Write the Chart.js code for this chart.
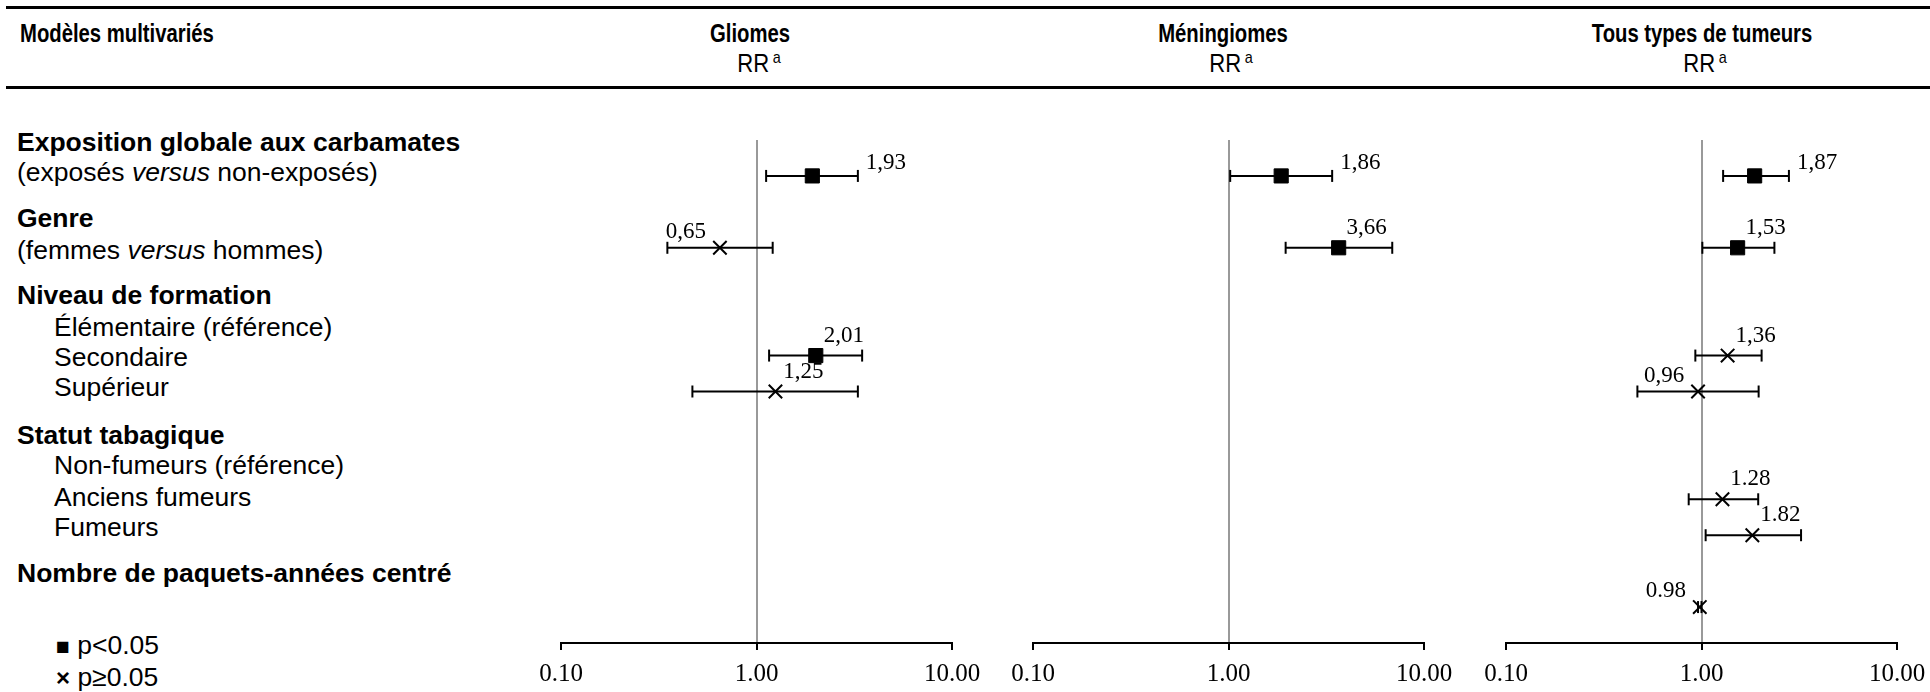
<!DOCTYPE html>
<html lang="fr">
<head>
<meta charset="utf-8">
<title>Modèles multivariés – RR</title>
<script src="https://cdn.jsdelivr.net/npm/chart.js@4.4.1/dist/chart.umd.min.js"></script>
<style>
  html, body { margin: 0; padding: 0; background: #fff; }
  body { width: 1930px; height: 692px; position: relative; overflow: hidden;
         font-family: "Liberation Sans", Arial, sans-serif; color: #000; }
  .rule { position: absolute; left: 6px; right: 0; height: 3px; background: #000; }
  .t { position: absolute; white-space: nowrap; line-height: 30px; height: 30px; font-size: 26.5px; }
  .b { font-weight: bold; }
  /* en-têtes : police étroite (type Arial Narrow) */
  .h { position: absolute; white-space: nowrap; font-size: 26px; line-height: 30px; text-align: center;
       width: 400px; transform: scaleX(0.78); transform-origin: 50% 50%; }
  .rr { font-size: 26px; transform: scaleX(0.85); }
  .h sup { font-size: 17px; line-height: 0; vertical-align: 9px; margin-left: 4px; }
  canvas { position: absolute; top: 100px; }
</style>
</head>
<body>

<div class="rule" style="top:6px"></div>
<div class="rule" style="top:86px"></div>

<div class="h b" style="left:20px; top:18px; text-align:left; transform-origin: 0 50%">Modèles multivariés</div>
<div class="h b" style="left:550px; top:18px">Gliomes</div>
<div class="h rr" style="left:559px; top:48px">RR<sup>a</sup></div>
<div class="h b" style="left:1023px; top:18px">Méningiomes</div>
<div class="h rr" style="left:1031px; top:48px">RR<sup>a</sup></div>
<div class="h b" style="left:1502px; top:18px">Tous types de tumeurs</div>
<div class="h rr" style="left:1505px; top:48px">RR<sup>a</sup></div>

<div class="t b" style="left:17px; top:127px">Exposition globale aux carbamates</div>
<div class="t" style="left:17px; top:157px">(exposés <i>versus</i> non-exposés)</div>
<div class="t b" style="left:17px; top:203px">Genre</div>
<div class="t" style="left:17px; top:235px">(femmes <i>versus</i> hommes)</div>
<div class="t b" style="left:17px; top:280px">Niveau de formation</div>
<div class="t" style="left:54px; top:312px">Élémentaire (référence)</div>
<div class="t" style="left:54px; top:342px">Secondaire</div>
<div class="t" style="left:54px; top:372px">Supérieur</div>
<div class="t b" style="left:17px; top:420px">Statut tabagique</div>
<div class="t" style="left:54px; top:450px">Non-fumeurs (référence)</div>
<div class="t" style="left:54px; top:482px">Anciens fumeurs</div>
<div class="t" style="left:54px; top:512px">Fumeurs</div>
<div class="t b" style="left:17px; top:558px">Nombre de paquets-années centré</div>
<div class="t" style="left:56px; top:630px"><span style="font-size:23px">■</span> p&lt;0.05</div>
<div class="t" style="left:56px; top:662px"><b style="font-size:24px">×</b> p≥0.05</div>

<canvas id="gliomes" width="511" height="592" style="left:501px"></canvas>
<canvas id="meningiomes" width="511" height="592" style="left:973px"></canvas>
<canvas id="tous" width="511" height="592" style="left:1446px"></canvas>

<script>
// ---- données ----
// lignes de la figure (de haut en bas), les vides servent d'espacement
const rowSlots = ["", "Exposition", "", "Genre", "", "", "Secondaire", "Supérieur", "", "",
                  "Anciens fumeurs", "Fumeurs", "", "Paquets-années", ""];
const xTicks = [0.1, 1, 10];

// Gliomes
const rowsGliomes = ["Exposition", "Genre", "Secondaire", "Supérieur"];
const rrGliomes = [1.93, 0.65, 2.01, 1.25];
const loGliomes = [1.12, 0.35, 1.16, 0.47];
const hiGliomes = [3.30, 1.21, 3.47, 3.30];
const sigGliomes = [true, false, true, false];
const txtGliomes = ["1,93", "0,65", "2,01", "1,25"];
const posGliomes = ["right", "left", "above", "above"];

// Méningiomes
const rowsMening = ["Exposition", "Genre"];
const rrMening = [1.86, 3.66];
const loMening = [1.02, 1.96];
const hiMening = [3.39, 6.88];
const sigMening = [true, true];
const txtMening = ["1,86", "3,66"];
const posMening = ["right", "above"];

// Tous types de tumeurs
const rowsTous = ["Exposition", "Genre", "Secondaire", "Supérieur", "Anciens fumeurs", "Fumeurs", "Paquets-années"];
const rrTous = [1.87, 1.53, 1.36, 0.96, 1.28, 1.82, 0.98];
const loTous = [1.29, 1.01, 0.93, 0.47, 0.86, 1.05, 0.96];
const hiTous = [2.80, 2.36, 2.03, 1.96, 1.95, 3.23, 1.00];
const sigTous = [true, true, false, false, false, false, false];
const txtTous = ["1,87", "1,53", "1,36", "0,96", "1.28", "1.82", "0.98"];
const posTous = ["right", "above", "above", "left", "above", "above", "left"];

const SERIF = '"Liberation Serif", "Times New Roman", serif';

// étiquettes des valeurs (RR) à côté des marqueurs
const pointLabels = {
  id: "pointLabels",
  afterDatasetsDraw(chart, args, opts) {
    const { ctx } = chart;
    const meta = chart.getDatasetMeta(0);
    const xs = chart.scales.x;
    ctx.save();
    ctx.font = "23px " + SERIF;
    ctx.fillStyle = "#000";
    ctx.textBaseline = "middle";
    meta.data.forEach((pt, i) => {
      const pos = opts.pos[i];
      if (pos === "right") {
        ctx.textAlign = "left";
        ctx.fillText(opts.texts[i], xs.getPixelForValue(opts.hi[i]) + 8, pt.y - 13);
      } else if (pos === "left") {
        ctx.textAlign = "center";
        ctx.fillText(opts.texts[i], pt.x - 34, pt.y - 16);
      } else {
        ctx.textAlign = "center";
        ctx.fillText(opts.texts[i], pt.x + 28, pt.y - 20);
      }
    });
    ctx.restore();
  }
};

function forestPlot(id, rows, rr, lo, hi, sig, texts, pos) {
  const points = rows.map((r, i) => ({ x: rr[i], y: r }));
  const bars = rows.flatMap((r, i) => [{ x: lo[i], y: r }, { x: hi[i], y: r }, { x: null, y: null }]);

  return new Chart(document.getElementById(id), {
    type: "scatter",
    data: {
      datasets: [
        {
          data: points,
          showLine: false,
          pointStyle: c => sig[c.dataIndex] ? "rect" : "crossRot",
          pointRadius: c => sig[c.dataIndex] ? 10 : 9.5,
          pointBorderWidth: c => sig[c.dataIndex] ? 1 : 2,
          pointBackgroundColor: "#000",
          pointBorderColor: "#000"
        },
        {
          data: bars,
          showLine: true,
          spanGaps: false,
          borderColor: "#000",
          borderWidth: 2,
          pointStyle: "line",
          pointRotation: 90,
          pointRadius: 6,
          pointBorderWidth: 2,
          pointBorderColor: "#000"
        }
      ]
    },
    options: {
      responsive: false,
      animation: false,
      layout: { padding: { left: 60, right: 60, top: 40, bottom: 4 } },
      plugins: {
        legend: { display: false },
        tooltip: { enabled: false },
        pointLabels: { texts, pos, hi }
      },
      scales: {
        x: {
          type: "logarithmic",
          min: 0.1,
          max: 10,
          afterBuildTicks: s => { s.ticks = xTicks.map(v => ({ value: v })); },
          afterFit: s => { s.height = 45; },
          grid: {
            color: c => (c.tick && c.tick.value === 1) ? "#999" : "rgba(0,0,0,0)",
            lineWidth: 2,
            tickColor: "#000",
            tickWidth: 2,
            tickLength: 7
          },
          border: { display: true, color: "#000", width: 2 },
          ticks: {
            padding: 9,
            color: "#000",
            font: { family: SERIF, size: 25 },
            maxRotation: 0,
            callback: v => Number(v).toFixed(2)
          }
        },
        y: {
          type: "category",
          labels: rowSlots,
          offset: false,
          display: false
        }
      }
    },
    plugins: [pointLabels]
  });
}

forestPlot("gliomes", rowsGliomes, rrGliomes, loGliomes, hiGliomes, sigGliomes, txtGliomes, posGliomes);
forestPlot("meningiomes", rowsMening, rrMening, loMening, hiMening, sigMening, txtMening, posMening);
forestPlot("tous", rowsTous, rrTous, loTous, hiTous, sigTous, txtTous, posTous);
</script>
</body>
</html>
